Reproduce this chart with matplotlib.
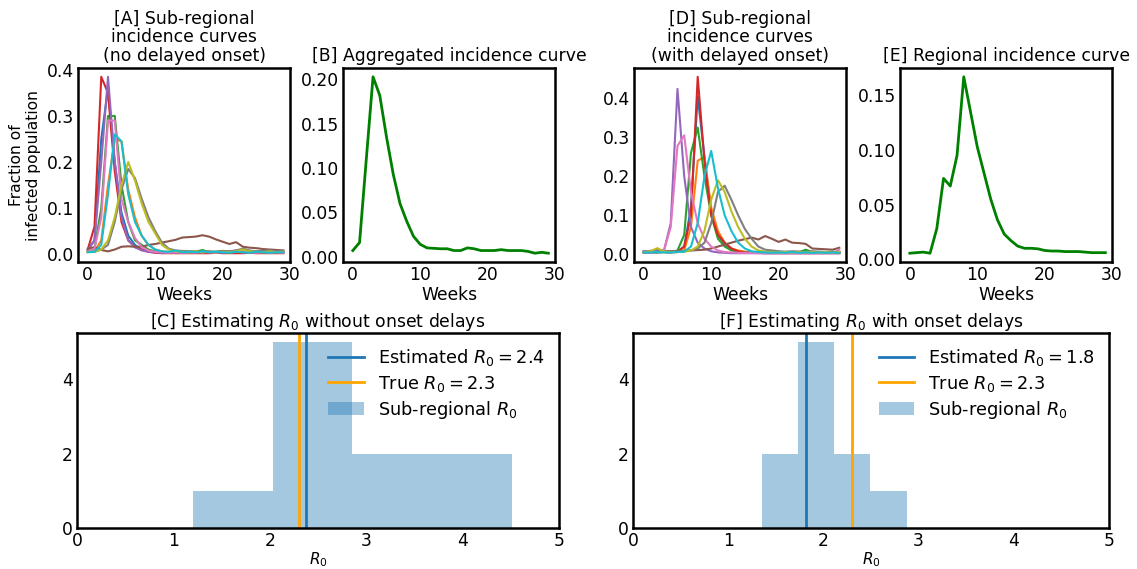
import matplotlib
matplotlib.use("Agg")
import matplotlib.pyplot as plt
import numpy as np

plt.rcParams['font.family'] = ['DejaVu Sans']
plt.rcParams['font.size'] = 12

weeks = list(range(30))

# Panel A: sub-regional incidence curves (no delayed onset), tab10 order C0..C9
a_c0 = [0.01, 0.03, 0.25, 0.36, 0.2, 0.09, 0.04, 0.02, 0.01, 0.006, 0.004, 0.004, 0.003, 0.004, 0.003, 0.003, 0.004, 0.003, 0.003, 0.004, 0.003, 0.004, 0.003, 0.004, 0.006, 0.005, 0.004, 0.005, 0.004, 0.004]
a_c1 = [0.005, 0.006, 0.03, 0.15, 0.25, 0.245, 0.14, 0.08, 0.04, 0.02, 0.01, 0.006, 0.005, 0.004, 0.006, 0.004, 0.005, 0.006, 0.004, 0.005, 0.007, 0.006, 0.005, 0.004, 0.006, 0.005, 0.006, 0.007, 0.008, 0.006]
a_c2 = [0.005, 0.012, 0.1, 0.3, 0.3, 0.15, 0.07, 0.03, 0.02, 0.01, 0.006, 0.004, 0.004, 0.005, 0.004, 0.006, 0.005, 0.009, 0.004, 0.005, 0.004, 0.006, 0.004, 0.005, 0.004, 0.005, 0.004, 0.005, 0.004, 0.004]
a_c3 = [0.01, 0.06, 0.385, 0.35, 0.18, 0.07, 0.03, 0.015, 0.01, 0.005, 0.003, 0.002, 0.002, 0.002, 0.002, 0.002, 0.002, 0.002, 0.002, 0.003, 0.002, 0.002, 0.002, 0.002, 0.003, 0.002, 0.002, 0.002, 0.002, 0.002]
a_c4 = [0.008, 0.03, 0.2, 0.385, 0.2, 0.08, 0.03, 0.015, 0.008, 0.005, 0.004, 0.003, 0.003, 0.003, 0.004, 0.003, 0.005, 0.003, 0.006, 0.004, 0.003, 0.005, 0.008, 0.004, 0.004, 0.006, 0.005, 0.004, 0.005, 0.003]
a_c5 = [0.012, 0.015, 0.009, 0.006, 0.01, 0.016, 0.017, 0.016, 0.016, 0.02, 0.022, 0.025, 0.028, 0.031, 0.036, 0.037, 0.038, 0.041, 0.038, 0.032, 0.027, 0.022, 0.026, 0.016, 0.014, 0.013, 0.011, 0.01, 0.009, 0.008]
a_c6 = [0.005, 0.012, 0.08, 0.29, 0.29, 0.12, 0.07, 0.035, 0.015, 0.008, 0.005, 0.004, 0.003, 0.004, 0.003, 0.004, 0.003, 0.005, 0.004, 0.003, 0.006, 0.004, 0.005, 0.008, 0.004, 0.003, 0.004, 0.003, 0.004, 0.003]
a_c7 = [0.005, 0.005, 0.01, 0.02, 0.07, 0.14, 0.185, 0.165, 0.12, 0.08, 0.05, 0.025, 0.012, 0.008, 0.007, 0.006, 0.006, 0.005, 0.006, 0.005, 0.007, 0.006, 0.008, 0.012, 0.008, 0.006, 0.007, 0.008, 0.006, 0.007]
a_c8 = [0.005, 0.005, 0.01, 0.03, 0.08, 0.15, 0.2, 0.16, 0.11, 0.07, 0.045, 0.02, 0.01, 0.006, 0.005, 0.004, 0.006, 0.004, 0.005, 0.004, 0.005, 0.004, 0.006, 0.01, 0.006, 0.005, 0.004, 0.006, 0.004, 0.005]
a_c9 = [0.004, 0.005, 0.02, 0.13, 0.26, 0.245, 0.13, 0.07, 0.04, 0.02, 0.01, 0.006, 0.005, 0.008, 0.004, 0.005, 0.004, 0.006, 0.004, 0.005, 0.004, 0.003, 0.005, 0.004, 0.003, 0.005, 0.004, 0.003, 0.004, 0.004]
curves_a = [a_c0, a_c1, a_c2, a_c3, a_c4, a_c5, a_c6, a_c7, a_c8, a_c9]

# Panel B: aggregated incidence curve
agg_b = [0.007, 0.016, 0.11, 0.203, 0.182, 0.135, 0.093, 0.06, 0.04, 0.023, 0.014, 0.01, 0.0095, 0.009, 0.009, 0.007, 0.007, 0.01, 0.009, 0.007, 0.007, 0.007, 0.008, 0.007, 0.007, 0.007, 0.006, 0.004, 0.005, 0.004]

# Panel D: sub-regional incidence curves (with delayed onset)
d_c0 = [0.008, 0.008, 0.009, 0.008, 0.007, 0.008, 0.02, 0.12, 0.405, 0.25, 0.11, 0.05, 0.025, 0.012, 0.008, 0.006, 0.005, 0.004, 0.004, 0.005, 0.004, 0.005, 0.004, 0.005, 0.004, 0.005, 0.004, 0.005, 0.004, 0.005]
d_c1 = [0.006, 0.006, 0.007, 0.006, 0.006, 0.007, 0.01, 0.07, 0.24, 0.25, 0.12, 0.06, 0.03, 0.015, 0.01, 0.007, 0.006, 0.005, 0.006, 0.005, 0.006, 0.005, 0.006, 0.007, 0.006, 0.005, 0.006, 0.005, 0.006, 0.006]
d_c2 = [0.005, 0.006, 0.005, 0.006, 0.005, 0.01, 0.05, 0.26, 0.325, 0.2, 0.1, 0.04, 0.02, 0.01, 0.006, 0.005, 0.005, 0.005, 0.005, 0.005, 0.006, 0.005, 0.006, 0.005, 0.012, 0.006, 0.005, 0.006, 0.005, 0.005]
d_c3 = [0.006, 0.006, 0.006, 0.006, 0.005, 0.006, 0.02, 0.1, 0.455, 0.24, 0.1, 0.05, 0.03, 0.015, 0.008, 0.005, 0.004, 0.004, 0.003, 0.003, 0.003, 0.003, 0.003, 0.003, 0.003, 0.003, 0.003, 0.003, 0.003, 0.003]
d_c4 = [0.008, 0.009, 0.012, 0.01, 0.08, 0.424, 0.2, 0.07, 0.03, 0.015, 0.008, 0.005, 0.004, 0.003, 0.003, 0.003, 0.003, 0.003, 0.003, 0.003, 0.003, 0.003, 0.003, 0.003, 0.003, 0.003, 0.003, 0.003, 0.003, 0.003]
d_c5 = [0.005, 0.006, 0.006, 0.007, 0.008, 0.008, 0.009, 0.01, 0.011, 0.012, 0.015, 0.02, 0.025, 0.03, 0.035, 0.039, 0.043, 0.038, 0.047, 0.04, 0.032, 0.038, 0.03, 0.029, 0.027, 0.015, 0.014, 0.013, 0.012, 0.017]
d_c6 = [0.004, 0.004, 0.005, 0.01, 0.07, 0.278, 0.305, 0.16, 0.08, 0.04, 0.02, 0.01, 0.006, 0.005, 0.004, 0.004, 0.004, 0.003, 0.003, 0.003, 0.003, 0.003, 0.003, 0.003, 0.003, 0.003, 0.003, 0.004, 0.003, 0.012]
d_c7 = [0.005, 0.005, 0.005, 0.006, 0.006, 0.007, 0.008, 0.01, 0.015, 0.03, 0.08, 0.16, 0.176, 0.14, 0.1, 0.065, 0.04, 0.02, 0.012, 0.01, 0.008, 0.007, 0.008, 0.007, 0.006, 0.008, 0.007, 0.006, 0.007, 0.006]
d_c8 = [0.006, 0.008, 0.016, 0.007, 0.006, 0.006, 0.007, 0.01, 0.02, 0.06, 0.14, 0.19, 0.16, 0.11, 0.07, 0.04, 0.02, 0.01, 0.007, 0.006, 0.005, 0.006, 0.005, 0.006, 0.005, 0.006, 0.005, 0.006, 0.005, 0.006]
d_c9 = [0.005, 0.005, 0.006, 0.005, 0.005, 0.006, 0.007, 0.02, 0.08, 0.2, 0.265, 0.17, 0.1, 0.06, 0.03, 0.015, 0.008, 0.006, 0.005, 0.004, 0.005, 0.004, 0.006, 0.004, 0.005, 0.004, 0.005, 0.004, 0.005, 0.004]
curves_d = [d_c0, d_c1, d_c2, d_c3, d_c4, d_c5, d_c6, d_c7, d_c8, d_c9]

# Panel E: regional incidence curve
reg_e = [0.0055, 0.006, 0.0065, 0.0055, 0.028, 0.074, 0.067, 0.095, 0.167, 0.135, 0.103, 0.079, 0.055, 0.036, 0.023, 0.017, 0.012, 0.01, 0.01, 0.0095, 0.008, 0.0075, 0.0075, 0.007, 0.007, 0.007, 0.0065, 0.006, 0.006, 0.006]

# Panels C and F: sub-regional R0 estimates
r0_sub_c = [1.206, 2.1, 2.2, 2.4, 2.6, 2.8, 3.0, 3.5, 4.0, 4.51]
r0_sub_f = [1.352, 1.6, 1.8, 1.9, 1.95, 2.0, 2.05, 2.2, 2.4, 2.875]
r0_est_c = 2.38
r0_est_f = 1.82
r0_true = 2.3

FS = 12.4

fig = plt.figure(figsize=(11.37, 5.69), dpi=100)

def style(ax):
    for s in ax.spines.values():
        s.set_linewidth(1.8)
        s.set_color('black')
    ax.tick_params(length=0, pad=3, labelsize=12.3)

W = 0.1865
H = 0.341
B0 = 0.5395
axA = fig.add_axes([0.0686, B0, W, H])
axB = fig.add_axes([0.3017, B0, W, H])
axD = fig.add_axes([0.5576, B0, W, H])
axE = fig.add_axes([0.7916, B0, W, H])
axC = fig.add_axes([0.0677, 0.0721, 0.4239, 0.3427])
axF = fig.add_axes([0.5567, 0.0721, 0.4186, 0.3427])

for i, c in enumerate(curves_a):
    axA.plot(weeks, c, color=f'C{i}', lw=1.5)
axA.set_title('[A] Sub-regional\nincidence curves\n(no delayed onset)', fontsize=FS, pad=5,
              linespacing=1.05)
axA.set_ylabel('Fraction of\ninfected population', fontsize=11.2)
axA.set_yticks([0.0, 0.1, 0.2, 0.3, 0.4])

axB.plot(weeks, agg_b, color='green', lw=2)
axB.set_title('[B] Aggregated incidence curve', fontsize=FS, pad=5)
axB.set_yticks([0.0, 0.05, 0.10, 0.15, 0.20])
axB.set_yticklabels(['0.00', '0.05', '0.10', '0.15', '0.20'])

for i, c in enumerate(curves_d):
    axD.plot(weeks, c, color=f'C{i}', lw=1.5)
axD.set_title('[D] Sub-regional\nincidence curves\n(with delayed onset)', fontsize=FS, pad=5,
              linespacing=1.05)
axD.set_yticks([0.0, 0.1, 0.2, 0.3, 0.4])

axE.plot(weeks, reg_e, color='green', lw=2)
axE.set_title('[E] Regional incidence curve', fontsize=FS, pad=5)
axE.set_yticks([0.0, 0.05, 0.10, 0.15])
axE.set_yticklabels(['0.00', '0.05', '0.10', '0.15'])

for ax in (axA, axB, axD, axE):
    ax.set_xlim(-1.45, 30)
    ax.set_xticks([0, 10, 20, 30])
    ax.set_xlabel('Weeks', fontsize=12.3, labelpad=1)
    style(ax)

def hist_panel(ax, subs, est, title):
    ax.hist(subs, bins=4, color='C0', alpha=0.4, label='Sub-regional $R_0$')
    ax.axvline(est, color='C0', lw=2, label=f'Estimated $R_0 = {est:.1f}$')
    ax.axvline(r0_true, color='orange', lw=2, label=f'True $R_0 = {r0_true:.1f}$')
    ax.set_xlim(0, 5)
    ax.set_yticks([0, 2, 4])
    ax.set_xticks([0, 1, 2, 3, 4, 5])
    ax.set_title(title, fontsize=FS, pad=4)
    ax.set_xlabel('$R_0$', fontsize=11, labelpad=0)
    h, l = ax.get_legend_handles_labels()
    order = [1, 2, 0]
    ax.legend([h[i] for i in order], [l[i] for i in order], frameon=False,
              loc='upper right', fontsize=12.8, handlelength=2.0, borderaxespad=0.4,
              labelspacing=0.3)
    style(ax)

hist_panel(axC, r0_sub_c, r0_est_c, '[C] Estimating $R_0$ without onset delays')
hist_panel(axF, r0_sub_f, r0_est_f, '[F] Estimating $R_0$ with onset delays')

fig.savefig('out.png', dpi=100)
